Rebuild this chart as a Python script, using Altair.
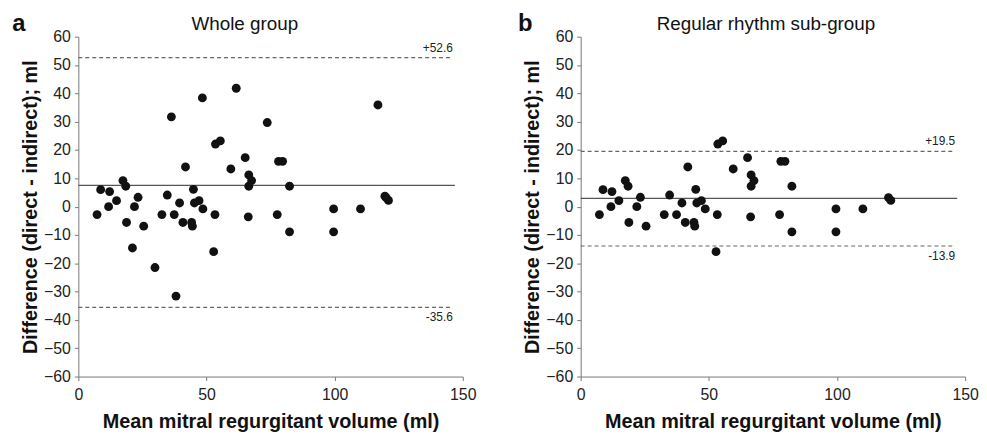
import altair as alt
import pandas as pd

# Regular-rhythm sub-group (panel b) : mean volume (ml) and difference (ml)
reg_x = [7.3, 8.7, 12.2, 11.8, 14.9, 17.4, 18.5, 18.8, 21.9, 23.3, 25.5,
         32.6, 34.7, 37.4, 39.5, 40.8, 41.8, 44.2, 44.5, 44.9, 45.3, 47.1, 48.6,
         53.3, 52.8, 53.5, 55.4, 59.5, 65.1,
         66.5, 67.6, 66.5, 66.3,
         77.6, 78.1, 79.7, 82.4, 82.4,
         99.6, 99.6, 110.1,
         120.1, 121.0]
reg_y = [-2.8, 6.0, 5.3, 0.0, 2.1, 9.2, 7.2, -5.6, 0.0, 3.3, -6.9,
         -2.8, 4.1, -2.8, 1.3, -5.6, 14.0, -5.6, -6.9, 6.1, 1.3, 2.1, -0.8,
         -2.8, -15.9, 22.1, 23.2, 13.3, 17.3,
         11.2, 9.2, 7.2, -3.6,
         -2.8, 16.0, 16.0, 7.2, -8.9,
         -0.8, -8.9, -0.8,
         3.2, 2.2]

# Additional patients present only in the whole group (panel a)
oth_x = [21.1, 29.9, 36.3, 38.1, 48.4, 61.6, 73.7, 116.9, 119.6]
oth_y = [-14.6, -21.5, 31.7, -31.6, 38.4, 41.8, 29.7, 35.9, 3.7]

# Mean and limits of agreement
whole_mean, whole_upper, whole_lower = 7.5, 52.6, -35.6
reg_mean, reg_upper, reg_lower = 2.9, 19.5, -13.9

titles = ["Whole group", "Regular rhythm sub-group"]
letters = ["a", "b"]
x_title = "Mean mitral regurgitant volume (ml)"
y_title = "Difference (direct - indirect); ml"
y_ticks = list(range(-60, 61, 10))
x_ticks = [0, 50, 100, 150]

FONT = "Liberation Sans"
W, H = 388, 343


def yenc(field):
    return alt.Y(field, type="quantitative",
                 scale=alt.Scale(domain=[-60, 60], nice=False),
                 axis=alt.Axis(values=y_ticks, title=y_title, labelOverlap=False,
                               labelFlush=False))


def panel(xs, ys, mean, upper, lower, title, letter, title_x, letter_x):
    pts = pd.DataFrame({"x": xs, "y": ys})
    xenc = alt.X("x:Q", scale=alt.Scale(domain=[0, 150], nice=False),
                 axis=alt.Axis(values=x_ticks, title=x_title, labelOverlap=False,
                               labelFlush=False))
    points = alt.Chart(pts).mark_circle(size=80, color="#111111", opacity=1).encode(
        x=xenc, y=yenc("y"))

    lim = pd.DataFrame({"v": [upper, lower], "lab": [f"+{upper}", f"{lower}"]})
    dashed = alt.Chart(lim).mark_rule(color="#666666", strokeDash=[4, 3], strokeWidth=1.2).encode(
        y=yenc("v"), x=alt.value(0), x2=alt.value(378))
    lab_up = alt.Chart(lim.iloc[[0]]).mark_text(align="right", dy=-10, fontSize=12,
                                                font=FONT, color="#222222").encode(
        y=yenc("v"), x=alt.value(378), text="lab:N")
    lab_lo = alt.Chart(lim.iloc[[1]]).mark_text(align="right", dy=10, fontSize=12,
                                                font=FONT, color="#222222").encode(
        y=yenc("v"), x=alt.value(378), text="lab:N")
    mean_df = pd.DataFrame({"v": [mean]})
    mean_rule = alt.Chart(mean_df).mark_rule(color="#555555", strokeWidth=1.2).encode(
        y=yenc("v"), x=alt.value(0), x2=alt.value(380))
    let_df = pd.DataFrame({"t": [letter]})
    let_text = alt.Chart(let_df).mark_text(fontSize=24, fontWeight="bold", font=FONT,
                                           color="#111111").encode(
        x=alt.value(letter_x), y=alt.value(-13), text="t:N")
    tit_df = pd.DataFrame({"t": [title]})
    tit_text = alt.Chart(tit_df).mark_text(fontSize=19, font=FONT, color="#111111").encode(
        x=alt.value(title_x), y=alt.value(-13), text="t:N")
    return alt.layer(dashed, mean_rule, points, lab_up, lab_lo, let_text, tit_text).properties(
        width=W, height=H)


pa = panel(reg_x + oth_x, reg_y + oth_y, whole_mean, whole_upper, whole_lower,
           titles[0], letters[0], 168, -60)
pb = panel(reg_x, reg_y, reg_mean, reg_upper, reg_lower,
           titles[1], letters[1], 187, -56)

chart = alt.hconcat(pa, pb, spacing=41).properties(
    padding={"left": 4, "top": 2, "right": 0, "bottom": 0}
).configure_view(stroke=None).configure_axis(
    labelFont=FONT, titleFont=FONT, labelFontSize=16, labelColor="#222222",
    titleFontSize=20, titleFontWeight="bold", titleColor="#111111",
    domainColor="#777777", tickColor="#777777", tickSize=4, grid=False,
    labelPadding=4
).configure_axisY(titlePadding=3).configure_axisX(titlePadding=9, labelPadding=6)

chart.save("out.html", embed_options={"renderer": "svg", "actions": False})
